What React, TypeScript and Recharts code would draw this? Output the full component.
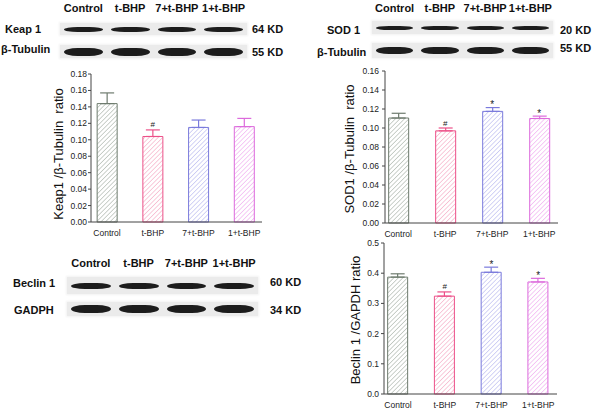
import React from "react";
import { ComposedChart, Bar, ErrorBar, Scatter, XAxis, YAxis } from "recharts";

const FONT = '"Liberation Sans", Arial, sans-serif';

// groups shared by every blot and chart
const GROUPS = ["Control", "t-BHP", "7+t-BHP", "1+t-BHP"];

// Keap1 / β-Tubulin
const KEAP1_RATIO = [0.144, 0.104, 0.115, 0.116];
const KEAP1_ERR = [0.013, 0.008, 0.009, 0.010];
const KEAP1_MARK = ["", "#", "", ""];
const KEAP1_TICKS = [0, 0.02, 0.04, 0.06, 0.08, 0.1, 0.12, 0.14, 0.16, 0.18];

// SOD1 / β-Tubulin
const SOD1_RATIO = [0.1105, 0.097, 0.1175, 0.110];
const SOD1_ERR = [0.005, 0.003, 0.004, 0.0025];
const SOD1_MARK = ["", "#", "*", "*"];
const SOD1_TICKS = [0, 0.02, 0.04, 0.06, 0.08, 0.1, 0.12, 0.14, 0.16];

// Beclin 1 / GAPDH
const BECLIN_RATIO = [0.387, 0.324, 0.403, 0.371];
const BECLIN_ERR = [0.011, 0.014, 0.017, 0.012];
const BECLIN_MARK = ["", "#", "*", "*"];
const BECLIN_TICKS = [0, 0.1, 0.2, 0.3, 0.4, 0.5];

const STROKES = ["#6e7b6e", "#ec5089", "#7a7adc", "#dc6adc"];
const HATCHES = ["#aab3aa", "#f5a8c4", "#b8b8f0", "#efaaef"];

type ChartProps = {
  id: string;
  left: number;
  top: number;
  plotW: number;
  plotH: number;
  values: number[];
  errors: number[];
  marks: string[];
  ticks: number[];
  digits: number;
  xDomain: [number, number];
  tickGap: number;
};

function RatioChart(p: ChartProps) {
  const rows = GROUPS.map((g, i) => {
    const r: any = {
      x: i + 1,
      name: g,
      mark: p.marks[i],
      markY: p.marks[i] ? p.values[i] + p.errors[i] : null,
    };
    r["v" + i] = p.values[i];
    r["e" + i] = [0, p.errors[i]];
    return r;
  });
  const ml = 50, mt = 10, mr = 15, xh = 20, mb = 5;
  return (
    <div style={{ position: "absolute", left: p.left - ml, top: p.top - mt }}>
      <ComposedChart
        width={p.plotW + ml + mr}
        height={p.plotH + mt + xh + mb}
        data={rows}
        margin={{ top: mt, right: mr, bottom: mb, left: 0 }}
        barSize={20}
      >
        <defs>
          {HATCHES.map((c, i) => (
            <pattern key={i} id={`${p.id}-h${i}`} width={3.2} height={3.2} patternUnits="userSpaceOnUse" patternTransform="rotate(45)">
              <rect width={3.2} height={3.2} fill="#fff" />
              <line x1={0} y1={0} x2={0} y2={3.2} stroke={c} strokeWidth={1.2} />
            </pattern>
          ))}
        </defs>
        <XAxis
          type="number"
          dataKey="x"
          domain={p.xDomain}
          ticks={[1, 2, 3, 4]}
          interval={0}
          tickFormatter={(v: number) => GROUPS[v - 1] ?? ""}
          tickLine={false}
          height={xh}
          stroke="#444"
          tick={{ fill: "#222", fontSize: 8.5, fontFamily: FONT }}
          tickMargin={2}
        />
        <YAxis
          type="number"
          domain={[0, p.ticks[p.ticks.length - 1]]}
          ticks={p.ticks}
          interval={0}
          width={ml}
          stroke="#444"
          tickSize={3}
          tickMargin={p.tickGap}
          tickFormatter={(v: number) => v.toFixed(p.digits)}
          tick={{ fill: "#222", fontSize: 8.5, fontFamily: FONT }}
        />
        {GROUPS.map((g, i) => (
          <Bar key={g} dataKey={"v" + i} stackId="s" fill={`url(#${p.id}-h${i})`} stroke={STROKES[i]} strokeWidth={1} isAnimationActive={false}>
            <ErrorBar dataKey={"e" + i} width={7} stroke={STROKES[i]} strokeWidth={1.2} direction="y" />
          </Bar>
        ))}
        <Scatter
          dataKey="markY"
          isAnimationActive={false}
          shape={(s: any) => {
            const m = s.payload?.mark;
            if (!m || !isFinite(s.cy)) return <g />;
            return (
              <text x={s.cx} y={m === "*" ? s.cy + 0.5 : s.cy - 2.5} textAnchor="middle" fontSize={m === "*" ? 10 : 8} fontFamily={FONT} fill="#222">
                {m}
              </text>
            );
          }}
        />
      </ComposedChart>
    </div>
  );
}

function YLabel({ text, cx, cy }: { text: string; cx: number; cy: number }) {
  return (
    <div
      style={{
        position: "absolute",
        left: cx,
        top: cy,
        transform: "translate(-50%, -50%) rotate(-90deg)",
        whiteSpace: "pre",
        fontSize: 13,
        fontFamily: FONT,
        color: "#111",
      }}
    >
      {text}
    </div>
  );
}

type BlotRow = { label: string; labelX: number; kd: string; kdX: number; kdY: number; y: number; h: number; band: number; ly: number };

function Blot({ x, w, headY, rows }: { x: number; w: number; headY: number; rows: BlotRow[] }) {
  const txt: React.CSSProperties = { position: "absolute", fontFamily: FONT, fontWeight: 700, fontSize: 11, color: "#111", whiteSpace: "nowrap", transform: "translateY(-50%)" };
  return (
    <>
      <div style={{ position: "absolute", left: x, top: headY, width: w, display: "flex", transform: "translateY(-50%)" }}>
        {GROUPS.map((g) => (
          <div key={g} style={{ flex: 1, textAlign: "center", fontFamily: FONT, fontWeight: 700, fontSize: 11, color: "#111", whiteSpace: "nowrap" }}>
            {g}
          </div>
        ))}
      </div>
      {rows.map((r) => (
        <React.Fragment key={r.label + r.y}>
          <div style={{ ...txt, left: r.labelX, top: r.ly }}>{r.label}</div>
          <div style={{ ...txt, left: r.kdX, top: r.kdY }}>{r.kd}</div>
          <div style={{ position: "absolute", left: x, top: r.y, width: w, height: r.h, background: "#ebebeb", display: "flex", alignItems: "center", boxShadow: "0 0 2px 1px #f2f2f2" }}>
            {GROUPS.map((g) => (
              <div key={g} style={{ flex: 1, padding: "0 4px", display: "flex", alignItems: "center" }}>
                <div style={{ width: "100%", height: r.band, background: "#1c1c1c", borderRadius: "35% / 50%", filter: "blur(0.6px)" }} />
              </div>
            ))}
          </div>
        </React.Fragment>
      ))}
    </>
  );
}

export default function App() {
  return (
    <div style={{ position: "absolute", left: 0, top: 0, width: 600, height: 409, background: "#fff", overflow: "hidden" }}>
      <Blot
        x={60}
        w={187}
        headY={8}
        rows={[
          { label: "Keap 1", labelX: 5, ly: 29, kd: "64 KD", kdX: 252, kdY: 29, y: 23, h: 12, band: 5 },
          { label: "β-Tubulin", labelX: 1, ly: 49, kd: "55 KD", kdX: 252, kdY: 52, y: 45, h: 13, band: 8 },
        ]}
      />
      <Blot
        x={372}
        w={181}
        headY={8}
        rows={[
          { label: "SOD 1", labelX: 327, ly: 30, kd: "20 KD", kdX: 560, kdY: 30, y: 21, h: 13, band: 4 },
          { label: "β-Tubulin", labelX: 317, ly: 52, kd: "55 KD", kdX: 560, kdY: 48, y: 43, h: 15, band: 7 },
        ]}
      />
      <Blot
        x={67}
        w={191}
        headY={263}
        rows={[
          { label: "Beclin 1", labelX: 13, ly: 283, kd: "60 KD", kdX: 270, kdY: 282, y: 277, h: 17, band: 6 },
          { label: "GADPH", labelX: 14, ly: 310, kd: "34 KD", kdX: 270, kdY: 310, y: 302, h: 14, band: 8 },
        ]}
      />

      <RatioChart id="keap" left={91} top={74} plotW={171} plotH={148} values={KEAP1_RATIO} errors={KEAP1_ERR} marks={KEAP1_MARK} ticks={KEAP1_TICKS} digits={2} xDomain={[0.65, 4.39]} tickGap={1} />
      <YLabel text="Keap1 /β-Tubulin  ratio" cx={58} cy={154} />

      <RatioChart id="sod" left={385} top={71} plotW={173} plotH={152} values={SOD1_RATIO} errors={SOD1_ERR} marks={SOD1_MARK} ticks={SOD1_TICKS} digits={2} xDomain={[0.72, 4.4]} tickGap={3} />
      <YLabel text="SOD1 /β-Tubulin  ratio" cx={349} cy={149} />

      <RatioChart id="bec" left={384} top={243} plotW={173} plotH={151} values={BECLIN_RATIO} errors={BECLIN_ERR} marks={BECLIN_MARK} ticks={BECLIN_TICKS} digits={1} xDomain={[0.7, 4.4]} tickGap={2} />
      <YLabel text="Beclin 1 /GAPDH ratio" cx={355} cy={320} />
    </div>
  );
}
